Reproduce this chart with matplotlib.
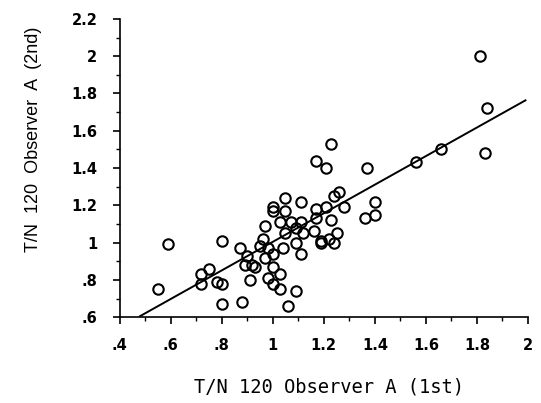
import matplotlib
matplotlib.use('Agg')
import matplotlib.pyplot as plt
from matplotlib.ticker import MultipleLocator, FuncFormatter

# first reading vs second reading, observer A
first = [1.81, 1.84, 1.83, 1.66, 1.56, 1.23, 1.17, 1.21, 1.37, 1.40,
         1.40, 1.36, 1.26, 1.24, 1.28, 1.21, 1.17, 1.17, 1.23, 1.11,
         1.05, 1.00, 1.00, 1.05, 1.03, 1.07, 1.11, 0.97, 1.05, 1.12,
         1.16, 1.09, 1.19, 1.19, 1.22, 1.25, 1.24, 0.96, 0.95, 1.04,
         1.09, 1.11, 1.00, 0.97, 0.87, 0.90, 0.89, 0.92, 0.93, 1.00,
         1.03, 0.98, 0.91, 1.00, 1.03, 1.09, 1.06, 0.88, 0.80, 0.80,
         0.59, 0.55, 0.72, 0.75, 0.72, 0.78, 0.80, 0.98]
second = [2.00, 1.72, 1.48, 1.50, 1.43, 1.53, 1.44, 1.40, 1.40, 1.22,
          1.15, 1.13, 1.27, 1.25, 1.19, 1.19, 1.18, 1.13, 1.12, 1.22,
          1.24, 1.19, 1.17, 1.17, 1.11, 1.11, 1.11, 1.09, 1.05, 1.05,
          1.06, 1.08, 1.01, 1.00, 1.02, 1.05, 1.00, 1.02, 0.98, 0.97,
          1.00, 0.94, 0.94, 0.92, 0.97, 0.93, 0.88, 0.88, 0.87, 0.87,
          0.83, 0.81, 0.80, 0.78, 0.75, 0.74, 0.66, 0.68, 0.67, 1.01,
          0.99, 0.75, 0.83, 0.86, 0.78, 0.79, 0.78, 0.97]

# regression line
slope, intercept = 0.767, 0.237
line_x = [0.48, 1.99]

plt.rcParams['font.family'] = 'DejaVu Sans'
plt.rcParams['font.weight'] = 'bold'
plt.rcParams['font.size'] = 10.5

fig = plt.figure(figsize=(5.41, 4.03), dpi=100)
ax = fig.add_axes([0.221, 0.213, 0.755, 0.740])

ax.plot(first, second, 'o', mfc='none', mec='black', ms=7.5, mew=1.5)
ax.plot(line_x, [intercept + slope * x for x in line_x], color='black', lw=1.4)

ax.set_xlim(0.4, 2.0)
ax.set_ylim(0.6, 2.2)
ax.spines['top'].set_visible(False)
ax.spines['right'].set_visible(False)
for s in ['left', 'bottom']:
    ax.spines[s].set_linewidth(1.2)

ax.xaxis.set_major_locator(MultipleLocator(0.2))
ax.xaxis.set_minor_locator(MultipleLocator(0.1))
ax.yaxis.set_major_locator(MultipleLocator(0.2))
ax.yaxis.set_minor_locator(MultipleLocator(0.1))


def fmt(v, pos):
    s = '%g' % round(v, 2)
    if s.startswith('0.'):
        s = s[1:]
    return s


ax.xaxis.set_major_formatter(FuncFormatter(fmt))
ax.yaxis.set_major_formatter(FuncFormatter(fmt))
ax.tick_params(which='major', length=5, width=1.2, direction='out',
               labelsize=10.5)
ax.tick_params(which='minor', length=3, width=1.0, direction='out')
ax.tick_params(axis='x', pad=10)
ax.tick_params(axis='y', pad=11)

ax.set_ylabel('T/N  120  Observer  A  (2nd)', fontsize=13,
              family='Liberation Sans', fontweight='normal')
ax.yaxis.set_label_coords(-0.19, 0.597)
ax.set_xlabel('T/N 120 Observer A (1st)', fontsize=13.5,
              family='DejaVu Sans Mono', fontweight='normal')
ax.xaxis.set_label_coords(0.512, -0.203)

plt.savefig('out.png', dpi=100)
